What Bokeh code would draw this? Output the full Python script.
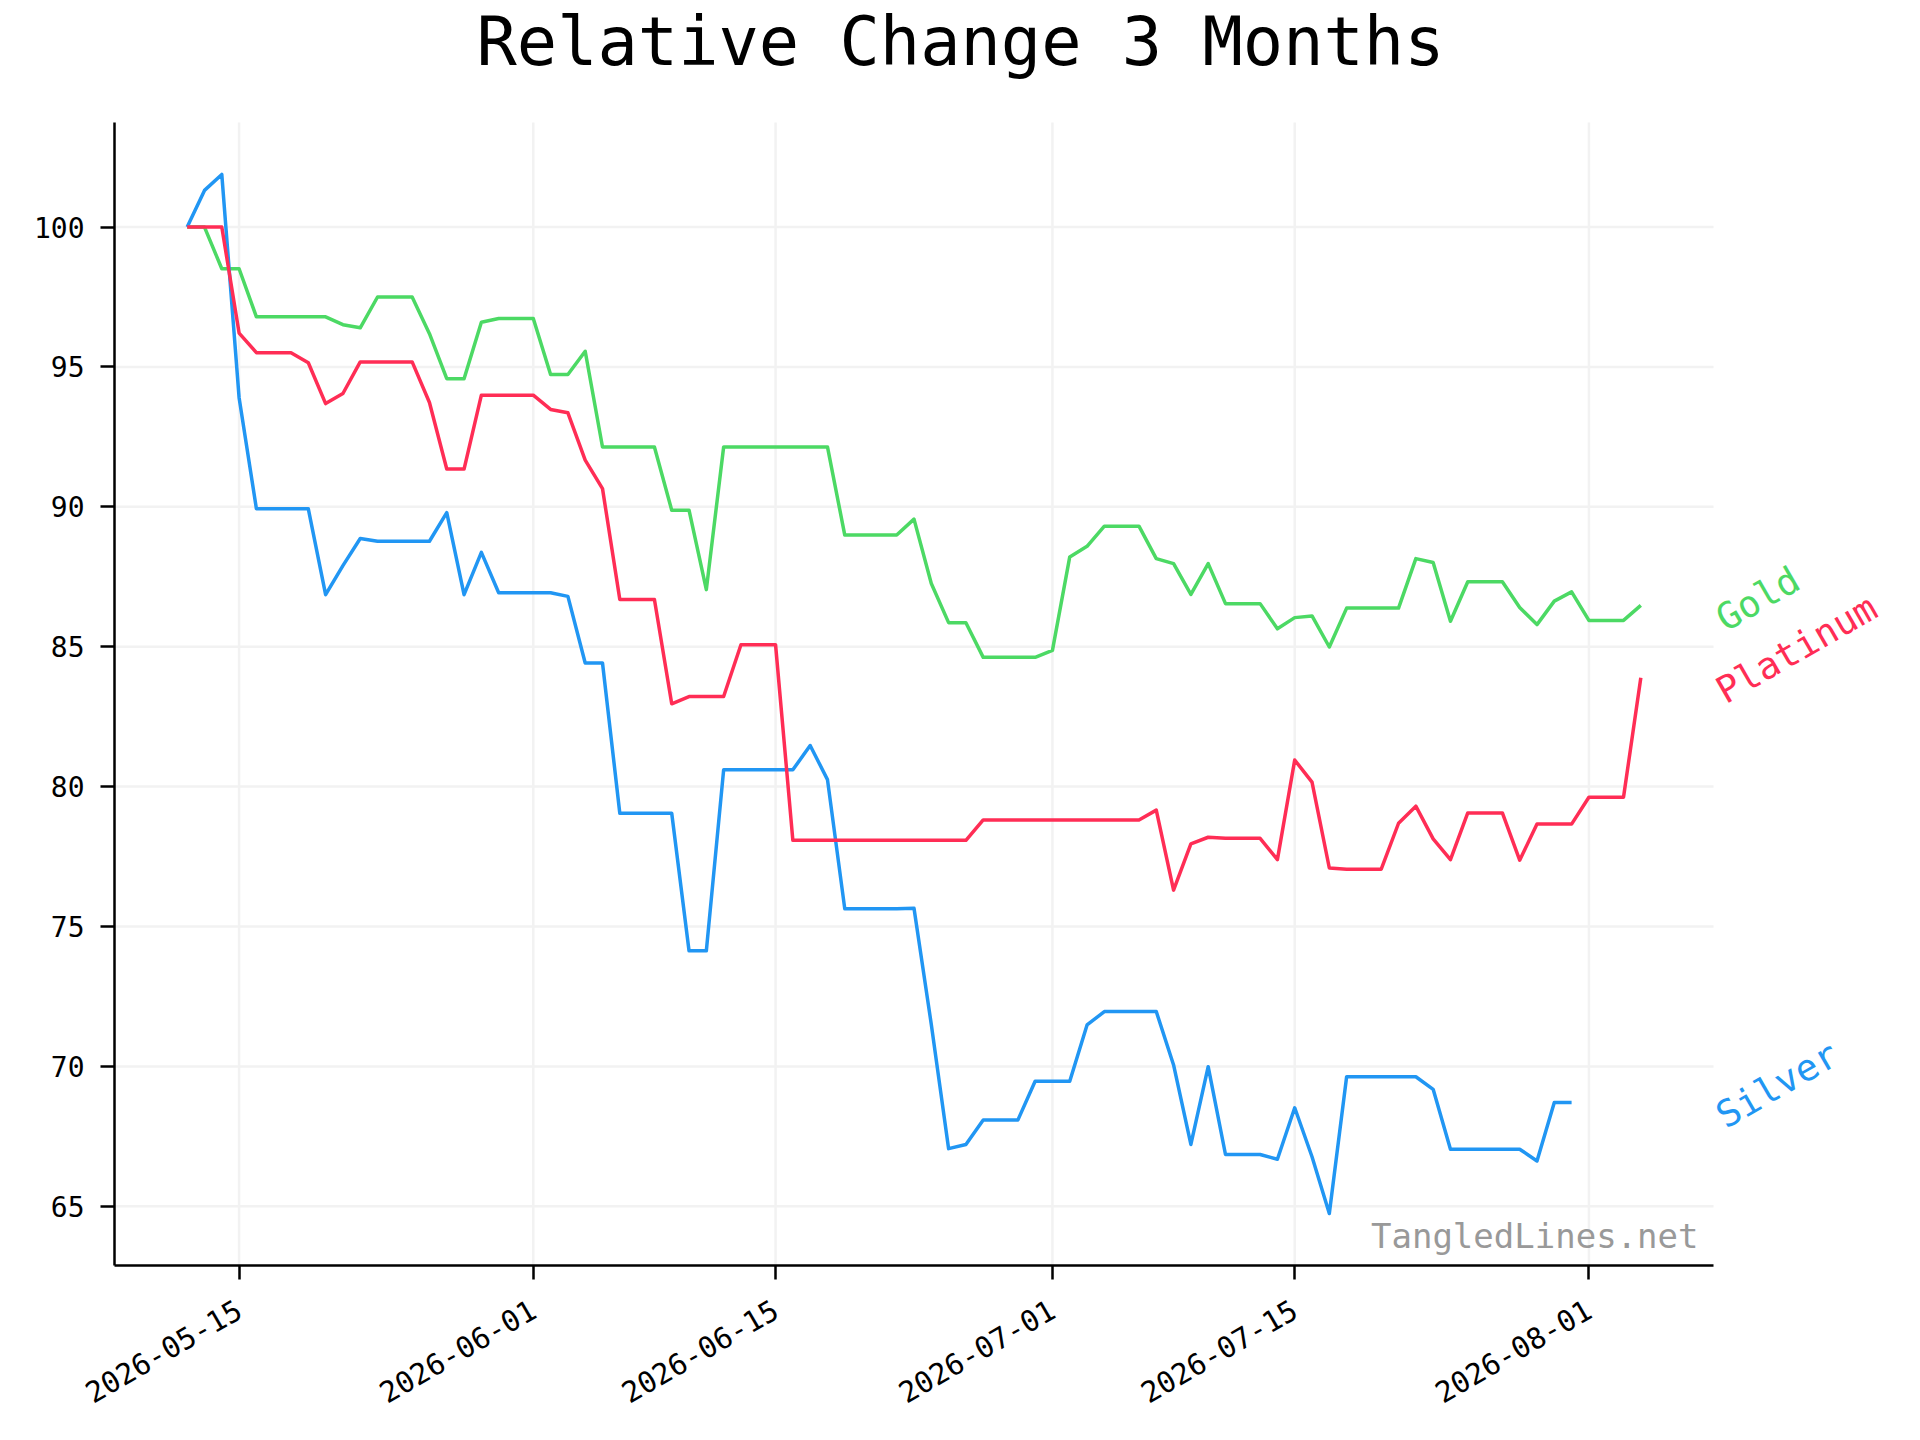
import numpy as np
import pandas as pd
from bokeh.plotting import figure
from bokeh.models import Range1d, FixedTicker, Label, DatetimeTickFormatter, ColumnDataSource
from bokeh.embed import file_html
from bokeh.resources import INLINE

# ---------------- data ----------------
start_date = "2026-05-12"
series_names = ["Gold", "Platinum", "Silver"]

gold = [100.00, 100.00, 98.51, 98.51, 96.79, 96.79, 96.79, 96.79, 96.79, 96.51,
        96.40, 97.50, 97.50, 97.50, 96.19, 94.58, 94.58, 96.60, 96.73, 96.73,
        96.73, 94.73, 94.73, 95.56, 92.14, 92.14, 92.14, 92.14, 89.88, 89.88,
        87.04, 92.14, 92.14, 92.14, 92.14, 92.14, 92.14, 92.14, 88.99, 88.99,
        88.99, 88.99, 89.56, 87.26, 85.86, 85.86, 84.62, 84.62, 84.62, 84.62,
        84.87, 88.21, 88.59, 89.31, 89.31, 89.31, 88.15, 87.97, 86.87, 87.97,
        86.54, 86.54, 86.54, 85.64, 86.04, 86.10, 84.99, 86.38, 86.38, 86.38,
        86.38, 88.15, 88.01, 85.91, 87.32, 87.32, 87.32, 86.40, 85.79, 86.63,
        86.96, 85.94, 85.94, 85.94, 86.48]

platinum = [100.00, 100.00, 100.00, 96.21, 95.51, 95.51, 95.51, 95.15, 93.69, 94.05,
            95.18, 95.18, 95.18, 95.18, 93.73, 91.35, 91.35, 93.99, 93.99, 93.99,
            93.99, 93.48, 93.36, 91.67, 90.65, 86.69, 86.69, 86.69, 82.96, 83.22,
            83.22, 83.22, 85.07, 85.07, 85.07, 78.08, 78.08, 78.08, 78.08, 78.08,
            78.08, 78.08, 78.08, 78.08, 78.08, 78.08, 78.81, 78.81, 78.81, 78.81,
            78.81, 78.81, 78.81, 78.81, 78.81, 78.81, 79.16, 76.30, 77.95, 78.19,
            78.15, 78.15, 78.15, 77.39, 80.95, 80.16, 77.09, 77.05, 77.05, 77.05,
            78.69, 79.30, 78.13, 77.39, 79.06, 79.06, 79.06, 77.37, 78.66, 78.66,
            78.66, 79.62, 79.62, 79.62, 83.89]

silver = [100.00, 101.31, 101.88, 93.90, 89.93, 89.93, 89.93, 89.93, 86.86, 87.90,
          88.87, 88.77, 88.77, 88.77, 88.77, 89.79, 86.86, 88.37, 86.93, 86.93,
          86.93, 86.93, 86.80, 84.42, 84.42, 79.05, 79.05, 79.05, 79.05, 74.13,
          74.13, 80.60, 80.60, 80.60, 80.60, 80.60, 81.47, 80.25, 75.63, 75.63,
          75.63, 75.63, 75.65, 71.50, 67.06, 67.21, 68.08, 68.08, 68.08, 69.47,
          69.47, 69.47, 71.48, 71.96, 71.96, 71.96, 71.96, 70.05, 67.21, 69.99,
          66.85, 66.85, 66.85, 66.68, 68.52, 66.77, 64.74, 69.63, 69.63, 69.63,
          69.63, 69.63, 69.18, 67.04, 67.04, 67.04, 67.04, 67.04, 66.62, 68.71,
          68.71]

x_tick_labels = ["2026-05-15", "2026-06-01", "2026-06-15",
                 "2026-07-01", "2026-07-15", "2026-08-01"]
y_ticks = [65, 70, 75, 80, 85, 90, 95, 100]

title_text = "Relative Change 3 Months"
watermark = "TangledLines.net"

# ---------------- styling / layout ----------------
FONT = "DejaVu Sans Mono"
colors = {"Gold": "#4cd964", "Platinum": "#ff2d55", "Silver": "#2196f3"}
values = {"Gold": gold, "Platinum": platinum, "Silver": silver}

FIG_W, FIG_H = 1904, 1424
BORDER_L = 114          # left edge of the axes box
AX_TOP = 122            # top of the axes box
AX_RIGHT = 1713         # right end of the axes box
AX_BOTTOM = 1265        # bottom of the axes box
frame_w = FIG_W - BORDER_L
frame_h = AX_BOTTOM
BORDER_B = FIG_H - AX_BOTTOM
ax_w = AX_RIGHT - BORDER_L
ax_h = AX_BOTTOM - AX_TOP


def ms(t):
    return pd.Timestamp(t).value / 1e6


dates_all = pd.date_range(start_date, periods=len(gold), freq="D")
t0, t1 = ms(dates_all[0]), ms(dates_all[-1])
xm = 0.05 * (t1 - t0)
x_start, x_axis_end = t0 - xm, t1 + xm

all_vals = np.concatenate([gold, platinum, silver])
vmin, vmax = all_vals.min(), all_vals.max()
ym = 0.05 * (vmax - vmin)
y_start, y_axis_end = vmin - ym, vmax + ym

# frame extends beyond the axes box (room for title and end labels)
x_per_px = (x_axis_end - x_start) / ax_w
y_per_px = (y_axis_end - y_start) / ax_h
x_frame_end = x_start + frame_w * x_per_px
y_frame_end = y_start + frame_h * y_per_px


def fx(px_from_fig_left):
    return x_start + (px_from_fig_left - BORDER_L) * x_per_px


def fy(px_from_fig_top):
    return y_start + (frame_h - px_from_fig_top) * y_per_px


p = figure(
    x_axis_type="datetime",
    output_backend="svg",
    toolbar_location=None,
    frame_width=frame_w,
    frame_height=frame_h,
    min_border_left=BORDER_L,
    min_border_top=0,
    min_border_right=0,
    min_border_bottom=BORDER_B,
    x_range=Range1d(x_start, x_frame_end),
    y_range=Range1d(y_start, y_frame_end),
    background_fill_color="white",
    border_fill_color="white",
)
p.outline_line_color = None
p.xgrid.visible = False
p.ygrid.visible = False

# axes
for ax in (p.xaxis[0], p.yaxis[0]):
    ax.axis_line_color = "black"
    ax.axis_line_width = 2.5
    ax.major_tick_line_color = "black"
    ax.major_tick_line_width = 2.5
    ax.major_tick_out = 14
    ax.major_tick_in = 0
    ax.minor_tick_out = 0
    ax.minor_tick_in = 0
    ax.major_label_text_font = FONT
    ax.major_label_text_color = "black"

p.xaxis[0].bounds = (x_start, x_axis_end)
p.yaxis[0].bounds = (y_start, y_axis_end)

p.yaxis[0].ticker = FixedTicker(ticks=y_ticks)
p.yaxis[0].major_label_standoff = 16
p.yaxis[0].major_label_text_font_size = "28px"

x_tick_ms = [ms(t) for t in x_tick_labels]
p.xaxis[0].ticker = FixedTicker(ticks=x_tick_ms)
fmt = "%Y-%m-%d"
p.xaxis[0].formatter = DatetimeTickFormatter(
    milliseconds=fmt, seconds=fmt, minsec=fmt, minutes=fmt, hourmin=fmt,
    hours=fmt, days=fmt, months=fmt, years=fmt)
p.xaxis[0].major_label_orientation = np.pi / 6
p.xaxis[0].major_label_standoff = 28
p.xaxis[0].major_label_text_font_size = "29px"

# grid lines (limited to the axes box)
GRID = dict(line_color="#f2f2f2", line_width=2.5, level="underlay")
p.segment(x0=x_tick_ms, x1=x_tick_ms, y0=[y_start] * len(x_tick_ms),
          y1=[y_axis_end] * len(x_tick_ms), **GRID)
p.segment(x0=[x_start] * len(y_ticks), x1=[x_axis_end] * len(y_ticks),
          y0=y_ticks, y1=y_ticks, **GRID)

# lines
for name in ["Gold", "Silver", "Platinum"]:
    vals = values[name]
    src = ColumnDataSource(dict(x=dates_all[:len(vals)], y=vals))
    p.line("x", "y", source=src, line_color=colors[name], line_width=3.5,
           line_join="round")

# end labels
for name in series_names:
    p.add_layout(Label(
        x=x_axis_end, y=values[name][-1], text=name,
        x_offset=6, y_offset=-16, angle=30, angle_units="deg",
        text_align="left", text_baseline="middle",
        text_font=FONT, text_font_size="37px", text_color=colors[name]))

# watermark
p.add_layout(Label(
    x=x_axis_end, y=y_start, x_offset=-15, y_offset=30, text=watermark,
    text_align="right", text_baseline="alphabetic",
    text_font=FONT, text_font_size="34px", text_color="#999999"))

# title (centred on the page)
p.add_layout(Label(
    x=fx(960), y=fy(41), text=title_text,
    text_align="center", text_baseline="alphabetic",
    text_font=FONT, text_font_size="67px", text_color="black"))

open("out.html", "w").write(file_html(p, INLINE))
